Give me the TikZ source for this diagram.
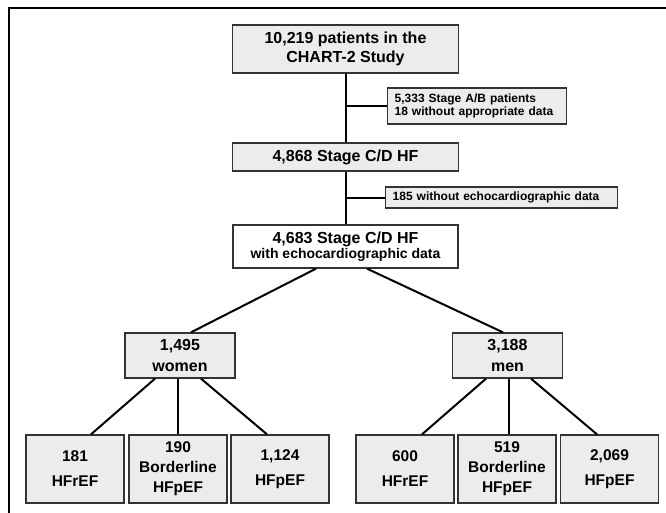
\documentclass[tikz,border=0pt]{standalone}
\usepackage{fontspec}
\setmainfont{Liberation Sans}
\definecolor{boxgray}{RGB}{236,236,236}
\tikzset{
  box/.style={draw=black!80,line width=1.3pt,fill=boxgray,align=center,inner sep=0pt},
  sidebox/.style={box,align=left,anchor=west,inner xsep=7pt,font=\bfseries\fontsize{12}{13.5}\selectfont},
  leaf/.style={box,minimum width=98pt,minimum height=68pt,font=\bfseries\fontsize{15.5}{20}\selectfont},
  shortleaf/.style={leaf,font=\bfseries\fontsize{15.5}{25}\selectfont},
  link/.style={line width=2pt}
}
\begin{document}
\begin{tikzpicture}[x=1pt,y=-1pt]
\useasboundingbox (0,0) rectangle (666,513);
\draw [line width=2pt] (9,513) -- (9,8) -- (666,8);
\node [box,minimum width=226pt,minimum height=48pt,font=\bfseries\fontsize{16}{19}\selectfont] (patients) at (345.5,49) {10,219 patients in the\\CHART-2 Study};
\node [sidebox,text width=165pt,minimum height=36pt] (sideab) at (387,106) {5,333 Stage A/B patients\\18 without appropriate data};
\node [box,minimum width=226pt,minimum height=28pt,font=\bfseries\fontsize{16}{19}\selectfont] (stagecd) at (345.5,157) {4,868 Stage C/D HF};
\node [sidebox,text width=218pt,minimum height=21pt] (sideecho) at (385,197.5) {185 without echocardiographic data};
\node [box,fill=white,minimum width=225pt,minimum height=43pt,font=\bfseries\fontsize{16}{15}\selectfont] (echo) at (345.5,246.5) {4,683 Stage C/D HF\\{\fontsize{14}{15}\selectfont with echocardiographic data}};
\node [box,minimum width=110pt,minimum height=45pt,font=\bfseries\fontsize{16}{21}\selectfont] (women) at (180,355.5) {1,495\\women};
\node [box,minimum width=110pt,minimum height=45pt,font=\bfseries\fontsize{16}{21}\selectfont] (men) at (507.5,355.5) {3,188\\men};
\node [shortleaf] (wrEF) at (75,469) {181\\HFrEF};
\node [leaf] (wbEF) at (178,469) {190\\Borderline\\HFpEF};
\node [shortleaf] (wpEF) at (280,469) {1,124\\HFpEF};
\node [shortleaf] (mrEF) at (405,469) {600\\HFrEF};
\node [leaf] (mbEF) at (507,469) {519\\Borderline\\HFpEF};
\node [shortleaf] (mpEF) at (609.5,469) {2,069\\HFpEF};
\draw [link] (patients.south) -- (stagecd.north);
\draw [link] (stagecd.south) -- (echo.north);
\draw [link] (sideab.west) -- (sideab.west -| patients.south);
\draw [link] (sideecho.west) -- (sideecho.west -| stagecd.south);
\draw [link] ([xshift=-29.5pt]echo.south) -- ([xshift=11pt]women.north);
\draw [link] ([xshift=21.5pt]echo.south) -- ([xshift=-4.5pt]men.north);
\draw [link] ([xshift=-25pt]women.south) -- ([xshift=16pt]wrEF.north);
\draw [link] ([xshift=-2pt]women.south) -- (wbEF.north);
\draw [link] ([xshift=21pt]women.south) -- ([xshift=-13pt]wpEF.north);
\draw [link] ([xshift=-21.5pt]men.south) -- ([xshift=17pt]mrEF.north);
\draw [link] ([xshift=1.5pt]men.south) -- ([xshift=2pt]mbEF.north);
\draw [link] ([xshift=23.5pt]men.south) -- ([xshift=-12.5pt]mpEF.north);
\end{tikzpicture}
\end{document}
